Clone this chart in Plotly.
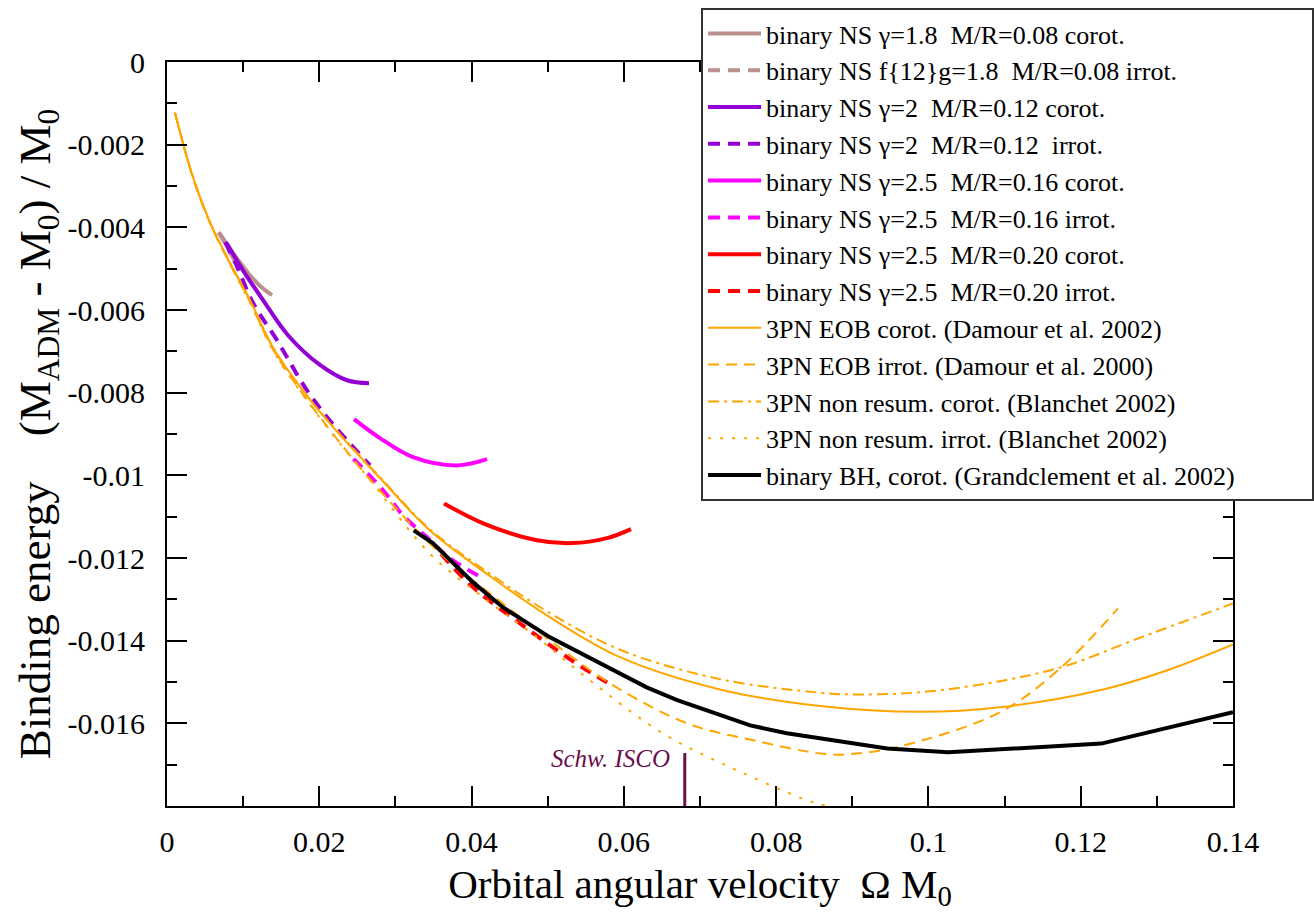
import plotly.graph_objects as go

# ---------------- data ----------------
ns18_corot_x = [0.00683, 0.00867, 0.0109, 0.01230, 0.01379]
ns18_corot_y = [-0.00412, -0.00462, -0.00516, -0.00543, -0.00564]
ns18_irrot_x = [0.0068, 0.0079, 0.0090]
ns18_irrot_y = [-0.00412, -0.00448, -0.00484]

ns2_corot_x = [0.00775, 0.00998, 0.01261, 0.01589, 0.02009, 0.02364, 0.02653]
ns2_corot_y = [-0.00436, -0.00504, -0.00576, -0.00661, -0.00733, -0.00770, -0.00777]
ns2_irrot_x = [0.00762, 0.0092, 0.0113, 0.01444, 0.01812, 0.0210, 0.02338, 0.02666]
ns2_irrot_y = [-0.00436, -0.00495, -0.00583, -0.00673, -0.00787, -0.00859, -0.00910, -0.00976]

ns25a_corot_x = [0.02456, 0.02797, 0.03231, 0.03809, 0.04203]
ns25a_corot_y = [-0.00864, -0.00910, -0.00956, -0.00976, -0.00961]
ns25a_irrot_x = [0.0245, 0.02837, 0.0310, 0.03415, 0.03717, 0.0415]
ns25a_irrot_y = [-0.00960, -0.01036, -0.01097, -0.01150, -0.01201, -0.01249]

ns25b_corot_x = [0.03638, 0.04176, 0.04859, 0.05319, 0.05778, 0.06094]
ns25b_corot_y = [-0.01068, -0.01118, -0.01157, -0.01164, -0.01152, -0.01130]
ns25b_irrot_x = [0.0360, 0.0402, 0.04636, 0.0512, 0.0546, 0.0578]
ns25b_irrot_y = [-0.01190, -0.01271, -0.01358, -0.01423, -0.01465, -0.01501]

eob_corot_x = [0.00105, 0.0034, 0.0057, 0.0083, 0.0109, 0.0139, 0.0185, 0.0231, 0.0280,
               0.0345, 0.0428, 0.0500, 0.0595, 0.0726, 0.0858, 0.0988, 0.1094, 0.1225,
               0.1313, 0.1400]
eob_corot_y = [-0.00123, -0.00278, -0.00390, -0.00487, -0.00576, -0.00690, -0.00810, -0.00910,
               -0.01007, -0.01133, -0.01249, -0.01340, -0.01440, -0.01518, -0.01558, -0.01572,
               -0.01561, -0.01520, -0.01472, -0.01409]

eob_irrot_x = [0.00105, 0.0034, 0.0057, 0.0083, 0.0109, 0.0139, 0.0185, 0.0231, 0.0271,
               0.0359, 0.0441, 0.0520, 0.0586, 0.0683, 0.0770, 0.0858, 0.0892, 0.0957,
               0.1094, 0.1173, 0.1249]
eob_irrot_y = [-0.00123, -0.00280, -0.00392, -0.00490, -0.00580, -0.00695, -0.00820, -0.00930,
               -0.01019, -0.01189, -0.01310, -0.01423, -0.01508, -0.01600, -0.01641, -0.01673,
               -0.01675, -0.01658, -0.01573, -0.01467, -0.01322]

pn_corot_x = [0.00105, 0.0034, 0.0057, 0.0083, 0.0109, 0.0139, 0.0185, 0.0231, 0.0280,
              0.0345, 0.0428, 0.0500, 0.0595, 0.0726, 0.0858, 0.0897, 0.0988, 0.1094,
              0.1182, 0.1269, 0.1400]
pn_corot_y = [-0.00123, -0.00278, -0.00390, -0.00487, -0.00576, -0.00690, -0.00810, -0.00908,
              -0.01005, -0.01130, -0.01243, -0.01330, -0.01422, -0.01493, -0.01526, -0.01530,
              -0.01525, -0.01498, -0.01460, -0.01399, -0.01310]

pn_irrot_x = [0.00105, 0.0034, 0.0057, 0.0083, 0.0109, 0.0139, 0.0185, 0.0231, 0.0267,
              0.0345, 0.0415, 0.0486, 0.0552, 0.0651, 0.0749, 0.0848, 0.0868]
pn_irrot_y = [-0.00123, -0.00280, -0.00392, -0.00490, -0.00582, -0.00697, -0.00822, -0.00932,
              -0.01012, -0.01189, -0.01295, -0.01392, -0.01491, -0.01624, -0.01714, -0.01791,
              -0.01800]

bh_corot_x = [0.0324, 0.0349, 0.0402, 0.0441, 0.0503, 0.0630, 0.0670, 0.0766, 0.0814,
              0.0946, 0.1026, 0.1227, 0.1400]
bh_corot_y = [-0.01133, -0.01164, -0.01259, -0.01319, -0.01392, -0.01513, -0.01544, -0.01605,
              -0.01624, -0.01661, -0.01670, -0.01649, -0.01573]

isco_x = [0.0680, 0.0680]
isco_y = [-0.01672, -0.0180]

x_tickvals = [0, 0.02, 0.04, 0.06, 0.08, 0.10, 0.12, 0.14]
x_ticktext = ["0", "0.02", "0.04", "0.06", "0.08", "0.1", "0.12", "0.14"]
y_tickvals = [0, -0.002, -0.004, -0.006, -0.008, -0.010, -0.012, -0.014, -0.016]
y_ticktext = ["0", "-0.002", "-0.004", "-0.006", "-0.008", "-0.01", "-0.012", "-0.014", "-0.016"]

NB = "\u00a0"
names = [
    f"binary NS γ=1.8 {NB}M/R=0.08 corot.",
    f"binary NS f{{12}}g=1.8 {NB}M/R=0.08 irrot.",
    f"binary NS γ=2 {NB}M/R=0.12 corot.",
    f"binary NS γ=2 {NB}M/R=0.12 {NB}irrot.",
    f"binary NS γ=2.5 {NB}M/R=0.16 corot.",
    f"binary NS γ=2.5 {NB}M/R=0.16 irrot.",
    f"binary NS γ=2.5 {NB}M/R=0.20 corot.",
    f"binary NS γ=2.5 {NB}M/R=0.20 irrot.",
    "3PN EOB corot. (Damour et al. 2002)",
    "3PN EOB irrot. (Damour et al. 2000)",
    "3PN non resum. corot. (Blanchet 2002)",
    "3PN non resum. irrot. (Blanchet 2002)",
    "binary BH, corot. (Grandclement et al. 2002)" + NB * 11,
]

BROWN = "#BC8F8F"
PURPLE = "#9400D3"
MAGENTA = "#FF00FF"
RED = "#FF0000"
ORANGE = "#FFA500"
ISCO_COL = "#6B0F4F"
NSDASH = "12px,8px"

series = [
    (ns18_corot_x, ns18_corot_y, BROWN, 4, "solid"),
    (ns18_irrot_x, ns18_irrot_y, BROWN, 4, NSDASH),
    (ns2_corot_x, ns2_corot_y, PURPLE, 4, "solid"),
    (ns2_irrot_x, ns2_irrot_y, PURPLE, 4, NSDASH),
    (ns25a_corot_x, ns25a_corot_y, MAGENTA, 4, "solid"),
    (ns25a_irrot_x, ns25a_irrot_y, MAGENTA, 4, NSDASH),
    (ns25b_corot_x, ns25b_corot_y, RED, 4, "solid"),
    (ns25b_irrot_x, ns25b_irrot_y, RED, 4, NSDASH),
    (eob_corot_x, eob_corot_y, ORANGE, 2, "solid"),
    (eob_irrot_x, eob_irrot_y, ORANGE, 2, "11px,7px"),
    (pn_corot_x, pn_corot_y, ORANGE, 2, "11px,5px,3px,5px"),
    (pn_irrot_x, pn_irrot_y, ORANGE, 2, "3px,9px"),
    (bh_corot_x, bh_corot_y, "black", 4, "solid"),
]

fig = go.Figure()
for (xs, ys, col, w, dash), nm in zip(series, names):
    if col == "black":
        ln = dict(color=col, width=w, dash=dash)
    else:
        ln = dict(color=col, width=w, dash=dash, shape="spline", smoothing=1.0)
    fig.add_trace(go.Scatter(x=xs, y=ys, mode="lines", name=nm, line=ln))

fig.add_trace(go.Scatter(x=isco_x, y=isco_y, mode="lines", showlegend=False,
                         line=dict(color=ISCO_COL, width=3)))

FONT = "Liberation Serif, Times New Roman, DejaVu Serif, serif"
axis_common = dict(
    showline=True, linecolor="black", linewidth=2, mirror="allticks",
    ticks="inside", ticklen=20, tickwidth=2, tickcolor="black",
    showgrid=False, zeroline=False, automargin=False,
    tickfont=dict(family=FONT, size=30, color="black"),
)

fig.update_xaxes(
    range=[0, 0.14], tickmode="array", tickvals=x_tickvals, ticktext=x_ticktext,
    minor=dict(dtick=0.01, ticklen=10, tickwidth=2, tickcolor="black", ticks="inside"),
    title=dict(text=f"Orbital angular velocity {NB}Ω M<sub>0</sub>",
               font=dict(family=FONT, size=41, color="black"), standoff=12),
    ticklabelstandoff=8,
    **axis_common,
)
fig.update_yaxes(
    range=[-0.018, 0], tickmode="array", tickvals=y_tickvals, ticktext=y_ticktext,
    minor=dict(dtick=0.001, ticklen=10, tickwidth=2, tickcolor="black", ticks="inside"),
    title=dict(text=f"Binding energy {NB}{NB}{NB}(M<sub>ADM</sub> - M<sub>0</sub>) / M<sub>0</sub>",
               font=dict(family=FONT, size=45, color="black"), standoff=3),
    ticklabelstandoff=14,
    **axis_common,
)

fig.add_annotation(x=0.0663, y=-0.01685, xref="x", yref="y", text="<i>Schw. ISCO</i>",
                   showarrow=False, xanchor="right", yanchor="middle",
                   font=dict(family=FONT, size=25, color=ISCO_COL))

fig.update_layout(
    width=1314, height=919,
    margin=dict(l=167, r=81, t=62, b=113, autoexpand=False),
    paper_bgcolor="white", plot_bgcolor="white",
    font=dict(family=FONT, color="black"),
    legend=dict(x=0.501, y=1.0726, xanchor="left", yanchor="top",
                bgcolor="white", bordercolor="#333333", borderwidth=2,
                font=dict(family=FONT, size=26, color="black"),
                tracegroupgap=0, itemwidth=53, maxheight=1.0),
    showlegend=True,
)

fig.write_html("out.html")
